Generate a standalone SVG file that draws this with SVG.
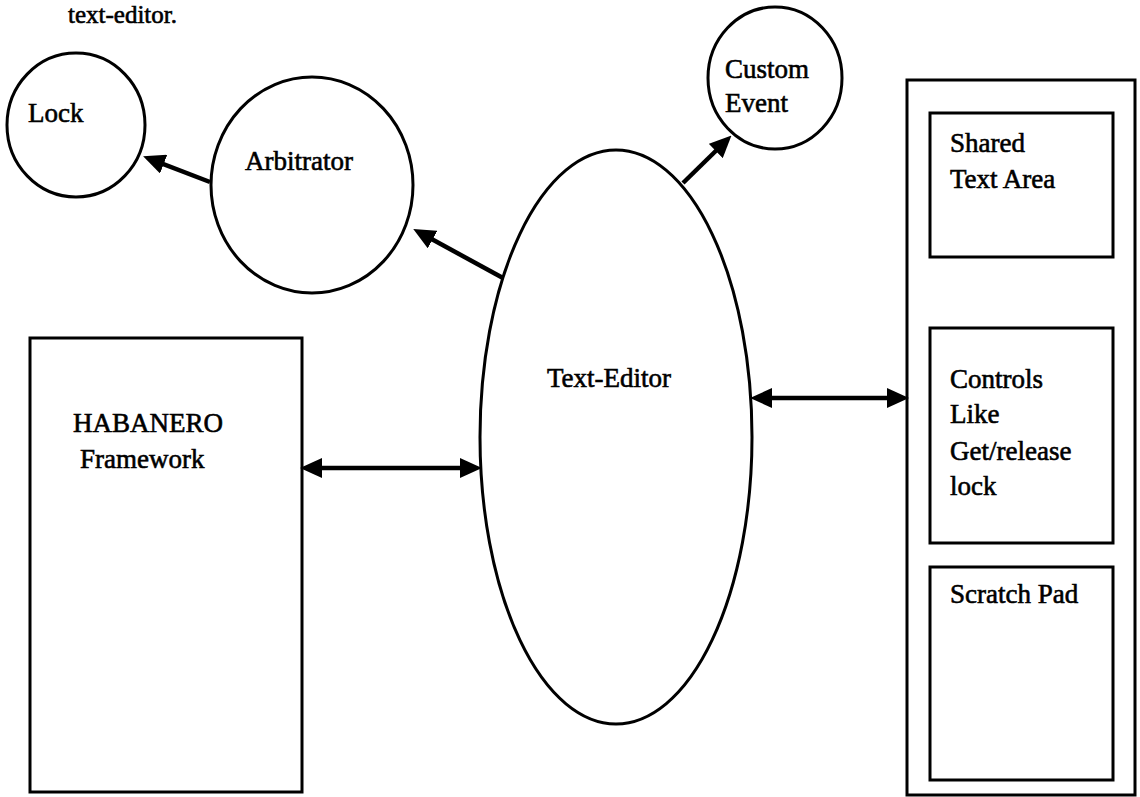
<svg xmlns="http://www.w3.org/2000/svg" width="1140" height="797" viewBox="0 0 1140 797">
  <style>
    .shape { fill: #fff; stroke: #000; stroke-width: 3; }
    .lbl { font-family: "Liberation Serif", "Times New Roman", serif; font-size: 27px; fill: #000; stroke: #000; stroke-width: 0.6; }
    .conn { fill: none; stroke: #000; stroke-width: 4.5; }
  </style>
  <defs>
    <marker id="ah" markerUnits="userSpaceOnUse" markerWidth="22" markerHeight="20" viewBox="0 0 22 20" refX="10" refY="10" orient="auto-start-reverse">
      <path d="M0,0 L22,10 L0,20 z" fill="#000"/>
    </marker>
  </defs>
  <rect width="1140" height="797" fill="#fff"/>

  <text class="lbl" x="68" y="23" style="font-size:25px">text-editor.</text>

  <g id="lock">
    <ellipse class="shape" cx="76" cy="125" rx="69" ry="72"/>
    <text class="lbl" x="28" y="122">Lock</text>
  </g>

  <g id="arbitrator">
    <ellipse class="shape" cx="312" cy="185" rx="101" ry="108"/>
    <text class="lbl" x="245" y="170">Arbitrator</text>
  </g>

  <g id="custom-event">
    <ellipse class="shape" cx="775" cy="78" rx="67" ry="71"/>
    <text class="lbl" x="725" y="78">Custom</text>
    <text class="lbl" x="725" y="112">Event</text>
  </g>

  <g id="text-editor">
    <ellipse class="shape" cx="616" cy="437" rx="136" ry="287"/>
    <text class="lbl" x="547" y="387">Text-Editor</text>
  </g>

  <g id="habanero">
    <rect class="shape" x="30" y="338" width="272" height="454"/>
    <text class="lbl" x="73" y="432">HABANERO</text>
    <text class="lbl" x="80" y="468">Framework</text>
  </g>

  <g id="ui-panel">
    <rect class="shape" x="907" y="80" width="228" height="715"/>
    <g id="shared-text-area">
      <rect class="shape" x="930" y="113" width="183" height="144"/>
      <text class="lbl" x="950" y="152">Shared</text>
      <text class="lbl" x="950" y="188">Text Area</text>
    </g>
    <g id="controls">
      <rect class="shape" x="930" y="328" width="183" height="215"/>
      <text class="lbl" x="950" y="388">Controls</text>
      <text class="lbl" x="950" y="423">Like</text>
      <text class="lbl" x="950" y="460">Get/release</text>
      <text class="lbl" x="950" y="495">lock</text>
    </g>
    <g id="scratch-pad">
      <rect class="shape" x="930" y="567" width="183" height="213"/>
      <text class="lbl" x="950" y="603">Scratch Pad</text>
    </g>
  </g>

  <g id="connectors">
    <path class="conn" d="M210,182 L154.3,160.6" marker-end="url(#ah)"/>
    <path class="conn" d="M503,278 L423.8,234.8" marker-end="url(#ah)"/>
    <path class="conn" d="M683,183 L722.9,144" marker-end="url(#ah)"/>
    <path class="conn" d="M312,468 L470,468" marker-start="url(#ah)" marker-end="url(#ah)"/>
    <path class="conn" d="M762,398 L897,398" marker-start="url(#ah)" marker-end="url(#ah)"/>
  </g>
</svg>
